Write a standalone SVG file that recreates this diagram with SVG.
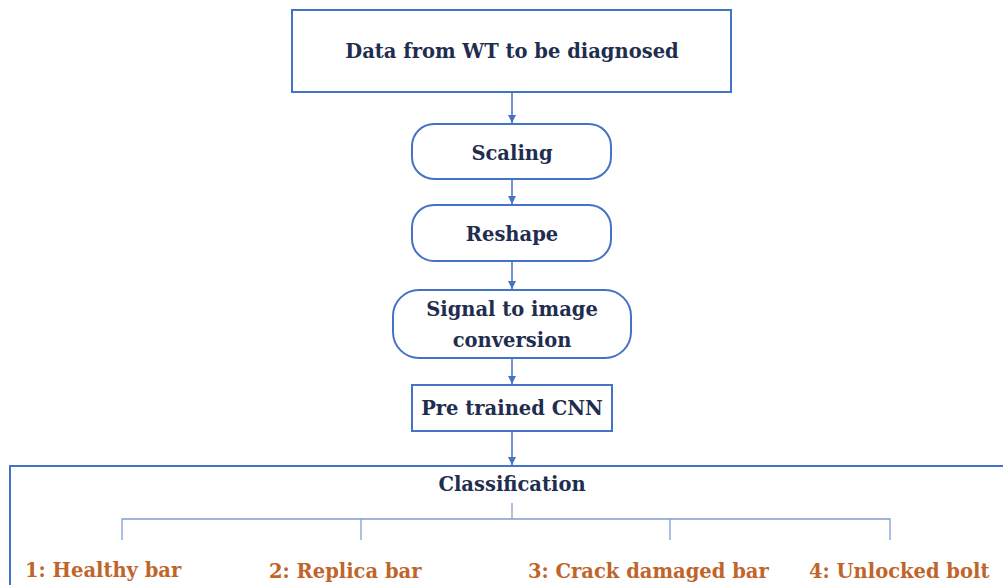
<svg xmlns="http://www.w3.org/2000/svg" width="1003" height="585" viewBox="0 0 1003 585">
  <style>
    .box { fill: #ffffff; stroke: #4472C4; stroke-width: 2; }
    .lbl { font-family: 'DejaVu Serif', 'Liberation Serif', serif; font-weight: bold; font-size: 19.5px; fill: #1F2D4F; text-anchor: middle; }
    .cls { font-family: 'DejaVu Serif', 'Liberation Serif', serif; font-weight: bold; font-size: 19.5px; fill: #C0652A; }
    .link { fill: none; stroke: #4472C4; stroke-width: 1.5; }
    .tree { fill: none; stroke: #7F9FD3; stroke-width: 1.3; }
  </style>
  <defs>
    <marker id="arrow" markerWidth="10" markerHeight="10" refX="8" refY="4" orient="auto" markerUnits="userSpaceOnUse">
      <path d="M0,0 L8,4 L0,8 Z" fill="#4472C4"/>
    </marker>
  </defs>
  <rect width="1003" height="585" fill="#ffffff"/>

  <g id="node-data">
    <rect class="box" x="292" y="10" width="439" height="82"/>
    <text class="lbl" x="512" y="58">Data from WT to be diagnosed</text>
  </g>

  <g id="node-scaling">
    <rect class="box" x="412" y="124" width="199" height="55" rx="22"/>
    <text class="lbl" x="512" y="160">Scaling</text>
  </g>

  <g id="node-reshape">
    <rect class="box" x="412" y="205" width="199" height="56" rx="22"/>
    <text class="lbl" x="512" y="241">Reshape</text>
  </g>

  <g id="node-signal">
    <rect class="box" x="393" y="290" width="238" height="68" rx="26"/>
    <text class="lbl" x="512" y="316">Signal to image</text>
    <text class="lbl" x="512" y="347">conversion</text>
  </g>

  <g id="node-cnn">
    <rect class="box" x="412" y="385" width="200" height="46"/>
    <text class="lbl" x="512" y="415">Pre trained CNN</text>
  </g>

  <g id="node-classification">
    <rect class="box" x="10" y="466" width="1000" height="130"/>
    <text class="lbl" x="512" y="491">Classification</text>
    <text class="cls" x="25" y="577">1: Healthy bar</text>
    <text class="cls" x="269" y="578">2: Replica bar</text>
    <text class="cls" x="528" y="578">3: Crack damaged bar</text>
    <text class="cls" x="809" y="578">4: Unlocked bolt</text>
  </g>

  <g id="connectors">
    <line class="link" x1="512" y1="92" x2="512" y2="123" marker-end="url(#arrow)"/>
    <line class="link" x1="512" y1="179" x2="512" y2="204" marker-end="url(#arrow)"/>
    <line class="link" x1="512" y1="261" x2="512" y2="289" marker-end="url(#arrow)"/>
    <line class="link" x1="512" y1="358" x2="512" y2="384" marker-end="url(#arrow)"/>
    <line class="link" x1="512" y1="431" x2="512" y2="465" marker-end="url(#arrow)"/>
    <path class="tree" d="M512,503 V519 M122,540 V519 H890 V540 M361,519 V540 M670,519 V540"/>
  </g>
</svg>
